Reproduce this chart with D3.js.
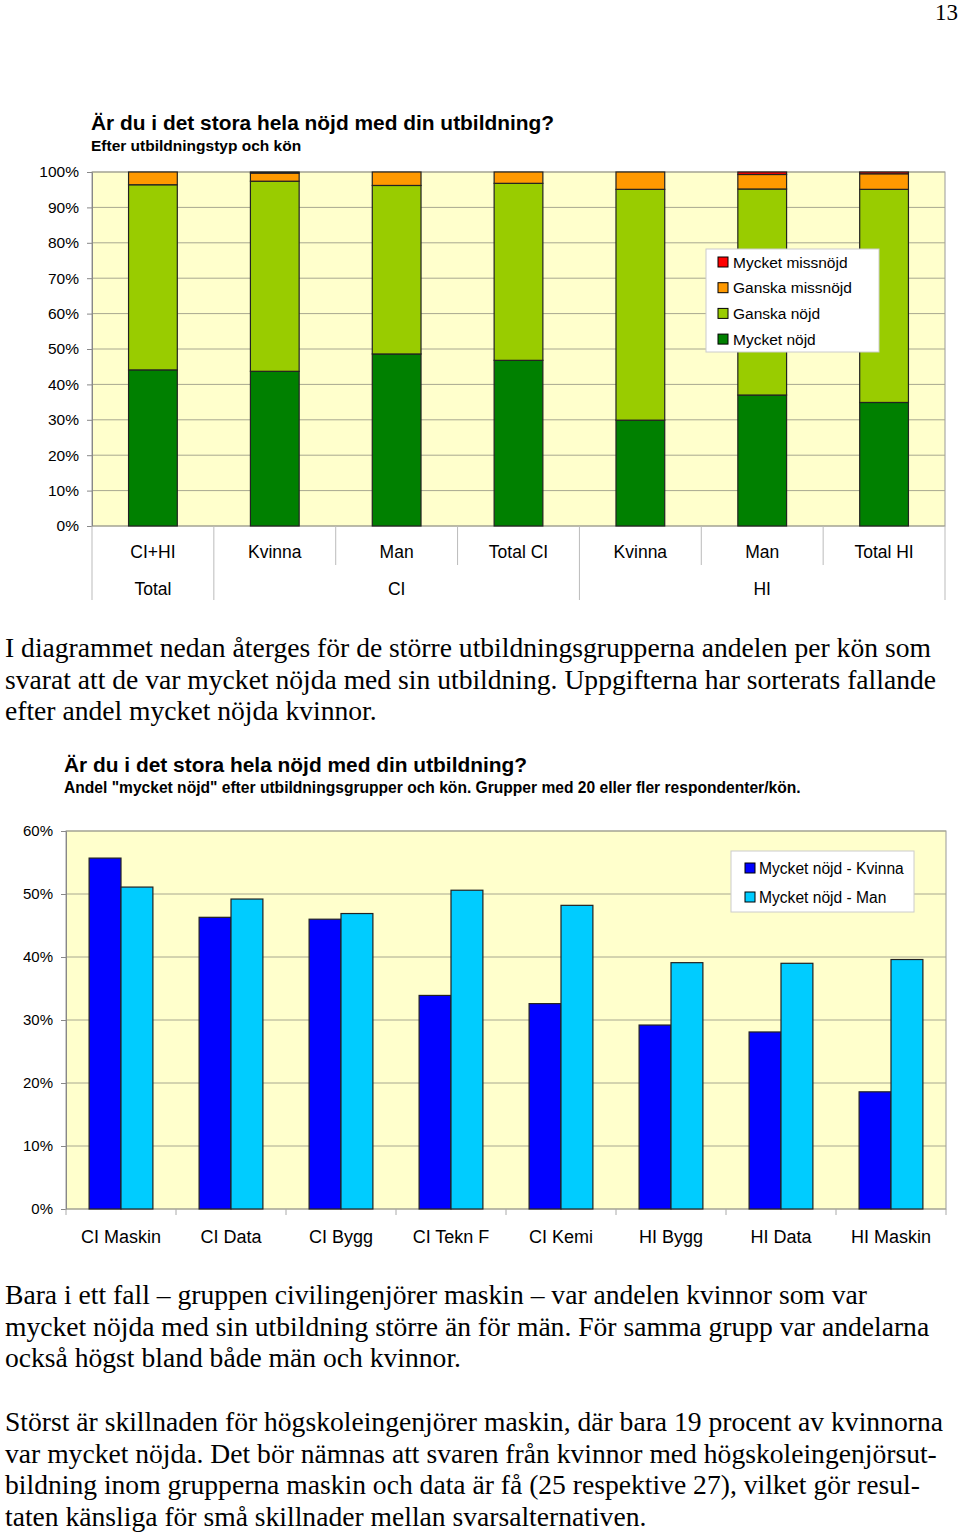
<!DOCTYPE html>
<html><head><meta charset="utf-8">
<script src="https://cdn.jsdelivr.net/npm/d3@7"></script>
<style>body{margin:0;background:#fff}svg{display:block}</style>
</head><body>
<svg id="c" width="960" height="1535"></svg>
<script>
// ---------- DATA ----------
const topCategories = ["CI+HI","Kvinna","Man","Total CI","Kvinna","Man","Total HI"];
const topGroups = ["Total","CI","HI"];
const topGroupSizes = [1,3,3];
const mycketNojd     = [44.1, 43.7, 48.6, 46.8, 29.9, 37.0, 34.9];
const ganskaNojd     = [52.3, 53.7, 47.6, 50.0, 65.2, 58.2, 60.2];
const ganskaMissnojd = [3.6, 2.3, 3.8, 3.2, 4.9, 4.1, 4.4];
const mycketMissnojd = [0.0, 0.3, 0.0, 0.0, 0.0, 0.7, 0.5];
const topSeriesNames = ["Mycket nöjd","Ganska nöjd","Ganska missnöjd","Mycket missnöjd"];
const topTicks = [0,10,20,30,40,50,60,70,80,90,100];

const botCategories = ["CI Maskin","CI Data","CI Bygg","CI Tekn F","CI Kemi","HI Bygg","HI Data","HI Maskin"];
const kvinna = [55.7, 46.3, 46.0, 33.9, 32.6, 29.2, 28.1, 18.6];
const man    = [51.1, 49.2, 46.9, 50.6, 48.2, 39.1, 39.0, 39.6];
const botSeriesNames = ["Mycket nöjd - Kvinna","Mycket nöjd - Man"];
const botTicks = [0,10,20,30,40,50,60];

const title1 = "Är du i det stora hela nöjd med din utbildning?";
const subtitle1 = "Efter utbildningstyp och kön";
const title2 = "Är du i det stora hela nöjd med din utbildning?";
const subtitle2 = "Andel \"mycket nöjd\" efter utbildningsgrupper och kön. Grupper med 20 eller fler respondenter/kön.";
const para1 = ["I diagrammet nedan återges för de större utbildningsgrupperna andelen per kön som",
 "svarat att de var mycket nöjda med sin utbildning. Uppgifterna har sorterats fallande",
 "efter andel mycket nöjda kvinnor."];
const para2 = ["Bara i ett fall – gruppen civilingenjörer maskin – var andelen kvinnor som var",
 "mycket nöjda med sin utbildning större än för män. För samma grupp var andelarna",
 "också högst bland både män och kvinnor."];
const para3 = ["Störst är skillnaden för högskoleingenjörer maskin, där bara 19 procent av kvinnorna",
 "var mycket nöjda. Det bör nämnas att svaren från kvinnor med högskoleingenjörsut-",
 "bildning inom grupperna maskin och data är få (25 respektive 27), vilket gör resul-",
 "taten känsliga för små skillnader mellan svarsalternativen."];
const pageNumber = "13";

// ---------- DRAW ----------
const svg = d3.select("#c");
const SANS = "'Liberation Sans', Arial, sans-serif";
const SERIF = "'Liberation Serif', 'Times New Roman', serif";
const gridCol = "#a8a890", plotBg = "#FFFFCC";

svg.append("text").attr("x",958).attr("y",20).attr("text-anchor","end")
  .attr("font-family",SERIF).attr("font-size",23).text(pageNumber);

// ===== Top chart =====
{
  const L=92,R=945,T=172,B=526;
  const x = d3.scaleBand().domain(d3.range(topCategories.length)).range([L,R]).paddingInner(0.6).paddingOuter(0.3);
  const y = d3.scaleLinear().domain([0,100]).range([B,T]);
  const g = svg.append("g");
  g.append("text").attr("x",91).attr("y",130).attr("font-family",SANS).attr("font-weight","bold").attr("font-size",20.9).text(title1);
  g.append("text").attr("x",91).attr("y",151).attr("font-family",SANS).attr("font-weight","bold").attr("font-size",15.5).text(subtitle1);
  g.append("rect").attr("x",L).attr("y",T).attr("width",R-L).attr("height",B-T).attr("fill",plotBg).attr("stroke","#999");
  g.selectAll("line.grid").data(topTicks).join("line").attr("class","grid")
    .attr("x1",L).attr("x2",R).attr("y1",d=>y(d)).attr("y2",d=>y(d)).attr("stroke",gridCol).attr("stroke-width",1);
  const ya = g.append("g").attr("transform",`translate(${L},0)`)
    .call(d3.axisLeft(y).tickValues(topTicks).tickFormat(d=>d+"%").tickSize(5).tickPadding(8));
  ya.select(".domain").attr("stroke","#888");
  ya.selectAll(".tick line").attr("stroke","#888");
  ya.selectAll("text").attr("font-family",SANS).attr("font-size",15.5).attr("fill","#000");

  const rows = topCategories.map((c,i)=>({i, "Mycket nöjd":mycketNojd[i],"Ganska nöjd":ganskaNojd[i],"Ganska missnöjd":ganskaMissnojd[i],"Mycket missnöjd":mycketMissnojd[i]}));
  const stack = d3.stack().keys(topSeriesNames)(rows);
  const col = d3.scaleOrdinal().domain(topSeriesNames).range(["#008000","#99CC00","#FF9900","#FF0000"]);
  g.selectAll("g.s").data(stack).join("g").attr("fill",d=>col(d.key))
    .selectAll("rect").data(d=>d).join("rect")
    .attr("x",d=>x(d.data.i)).attr("width",x.bandwidth())
    .attr("y",d=>y(d[1])).attr("height",d=>y(d[0])-y(d[1]))
    .attr("stroke","#222").attr("stroke-width",1.2);

  // category labels
  const step = x.step();
  g.selectAll("text.cat").data(topCategories).join("text").attr("class","cat")
    .attr("x",(d,i)=>x(i)+x.bandwidth()/2).attr("y",558).attr("text-anchor","middle")
    .attr("font-family",SANS).attr("font-size",17.5).text(d=>d);
  const bounds = d3.range(topCategories.length+1).map(i=>L+i*step);
  const groupEnds = d3.cumsum(topGroupSizes);
  const groupStarts = [0, ...groupEnds.slice(0,-1)];
  bounds.forEach((bx,i)=>{
    const full = i===0 || groupEnds.includes(i);
    g.append("line").attr("x1",bx).attr("x2",bx).attr("y1",B).attr("y2",full?600:565).attr("stroke","#bbb");
  });
  g.selectAll("text.grp").data(topGroups).join("text").attr("class","grp")
    .attr("x",(d,i)=>L+(groupStarts[i]+topGroupSizes[i]/2)*step).attr("y",595).attr("text-anchor","middle")
    .attr("font-family",SANS).attr("font-size",17.5).text(d=>d);

  // legend
  const lg = g.append("g");
  lg.append("rect").attr("x",706).attr("y",249).attr("width",173).attr("height",103).attr("fill","#fff").attr("stroke","#ccc");
  const legOrder = topSeriesNames.slice().reverse();
  legOrder.forEach((n,i)=>{
    const cy = 262 + i*25.7;
    lg.append("rect").attr("x",718).attr("y",cy-5).attr("width",10).attr("height",10).attr("fill",col(n)).attr("stroke","#000");
    lg.append("text").attr("x",733).attr("y",cy+5.5).attr("font-family",SANS).attr("font-size",15.5).text(n);
  });
}

// ===== Paragraphs =====
function para(lines, y0){
  lines.forEach((l,i)=>svg.append("text").attr("x",5).attr("y",y0+i*31.7)
    .attr("font-family",SERIF).attr("font-size",27.6).text(l));
}
para(para1, 657);
para(para2, 1304);
para(para3, 1431);

// ===== Bottom chart =====
{
  const L=66,R=946,T=831,B=1209;
  const x0 = d3.scaleBand().domain(botCategories).range([L,R]).paddingInner(0.42).paddingOuter(0.21);
  const x1 = d3.scaleBand().domain(botSeriesNames).range([0,x0.bandwidth()]);
  const y = d3.scaleLinear().domain([0,60]).range([B,T]);
  const g = svg.append("g");
  g.append("text").attr("x",64).attr("y",772).attr("font-family",SANS).attr("font-weight","bold").attr("font-size",20.9).text(title2);
  g.append("text").attr("x",64).attr("y",793).attr("font-family",SANS).attr("font-weight","bold").attr("font-size",15.6).text(subtitle2);
  g.append("rect").attr("x",L).attr("y",T).attr("width",R-L).attr("height",B-T).attr("fill",plotBg).attr("stroke","#999");
  g.selectAll("line.grid").data(botTicks).join("line").attr("class","grid")
    .attr("x1",L).attr("x2",R).attr("y1",d=>y(d)).attr("y2",d=>y(d)).attr("stroke",gridCol);
  const ya = g.append("g").attr("transform",`translate(${L},0)`)
    .call(d3.axisLeft(y).tickValues(botTicks).tickFormat(d=>d+"%").tickSize(5).tickPadding(8));
  ya.select(".domain").attr("stroke","#888");
  ya.selectAll(".tick line").attr("stroke","#888");
  ya.selectAll("text").attr("font-family",SANS).attr("font-size",15).attr("fill","#000");

  const col = d3.scaleOrdinal().domain(botSeriesNames).range(["#0000FF","#00CCFF"]);
  const rows = botCategories.map((c,i)=>({c, vals:[{k:botSeriesNames[0],v:kvinna[i]},{k:botSeriesNames[1],v:man[i]}]}));
  g.selectAll("g.cat").data(rows).join("g").attr("transform",d=>`translate(${x0(d.c)},0)`)
    .selectAll("rect").data(d=>d.vals).join("rect")
    .attr("x",d=>x1(d.k)).attr("width",x1.bandwidth())
    .attr("y",d=>y(d.v)).attr("height",d=>y(0)-y(d.v))
    .attr("fill",d=>col(d.k)).attr("stroke","#222").attr("stroke-width",1.2);

  const step = x0.step();
  d3.range(botCategories.length+1).forEach(i=>{
    const bx = L+i*step;
    g.append("line").attr("x1",bx).attr("x2",bx).attr("y1",B).attr("y2",B+6).attr("stroke","#aaa");
  });
  g.selectAll("text.xl").data(botCategories).join("text").attr("class","xl")
    .attr("x",d=>x0(d)+x0.bandwidth()/2).attr("y",1243).attr("text-anchor","middle")
    .attr("font-family",SANS).attr("font-size",18).text(d=>d);

  const lg = g.append("g");
  lg.append("rect").attr("x",731).attr("y",851).attr("width",183).attr("height",61).attr("fill","#fff").attr("stroke","#ccc");
  botSeriesNames.forEach((n,i)=>{
    const cy = 868 + i*29;
    lg.append("rect").attr("x",745).attr("y",cy-5).attr("width",10).attr("height",10).attr("fill",col(n)).attr("stroke","#000");
    lg.append("text").attr("x",759).attr("y",cy+5.5).attr("font-family",SANS).attr("font-size",15.6).text(n);
  });
}
</script>
</body></html>
